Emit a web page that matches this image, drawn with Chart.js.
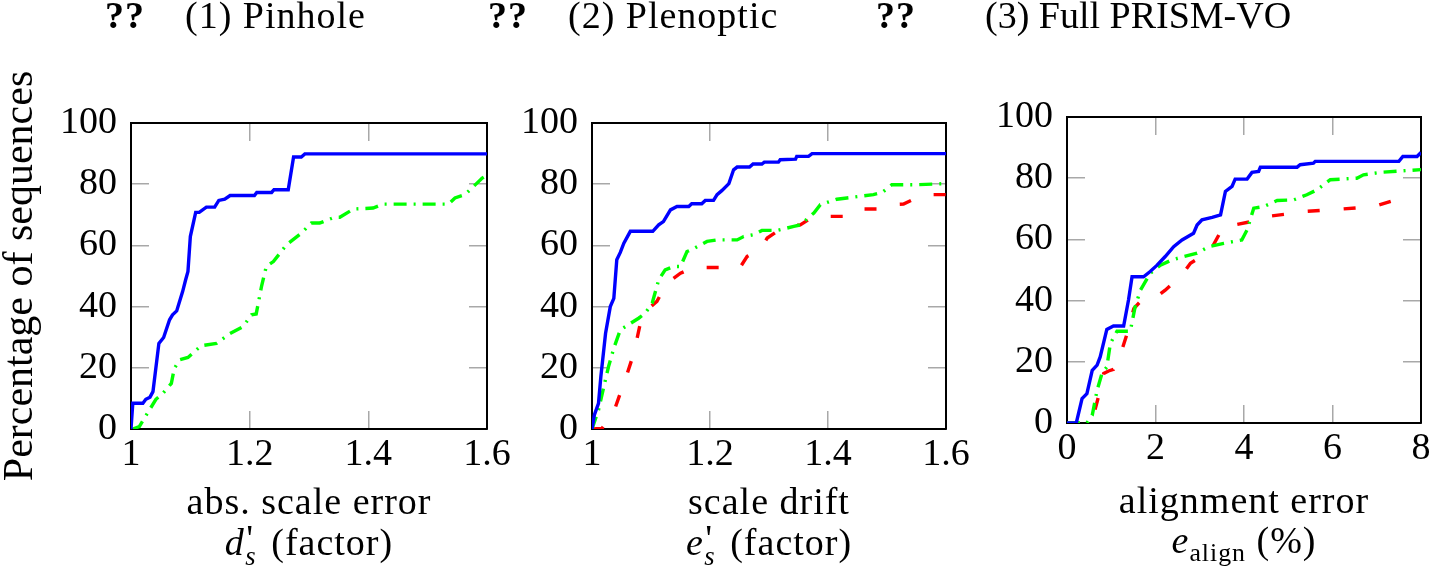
<!DOCTYPE HTML>
<html>
  <head>
    <script src="https://cdn.jsdelivr.net/npm/chart.js"></script>
    <style>
      body { margin: 0; width: 1429px; height: 572px; position: relative; overflow: hidden; background: #fff;
             font-family: "Liberation Serif", serif; font-size: 38px; color: #000; }
      canvas { position: absolute; left: 0; top: 0; }
      .t { position: absolute; line-height: 38px; white-space: nowrap; letter-spacing: 1px; }
      .c { transform: translateX(-50%); }
      .sub { font-size: 0.68em; position: relative; top: 0.3em; }
      .ps { display: inline-block; position: relative; width: 0.42em; height: 0; }
      .ps .pr { position: absolute; left: 0.04em; top: -36px; font-style: normal; }
      .ps .sb { position: absolute; left: 0.02em; top: -18px; font-size: 0.7em; }
    </style>
  </head>
  <body>
    <canvas id="abs-chart" width="1429" height="572"></canvas>
    <canvas id="drift-chart" width="1429" height="572"></canvas>
    <canvas id="align-chart" width="1429" height="572"></canvas>

    <!-- legend (the markers came out as ?? in the original) -->
    <div class="t" style="left:105px; top:-4px;"><b>??</b></div>
    <div class="t" style="left:185px; top:-4px;">(1) Pinhole</div>
    <div class="t" style="left:488px; top:-4px;"><b>??</b></div>
    <div class="t" style="left:568px; top:-4px;">(2) Plenoptic</div>
    <div class="t" style="left:876px; top:-4px;"><b>??</b></div>
    <div class="t" style="left:985px; top:-4px; letter-spacing: 0;">(3) Full PRISM-VO</div>

    <!-- x axis titles -->
    <div class="t c" style="left:309px; top:482px;">abs. scale error</div>
    <div class="t c" style="left:309px; top:523px;"><i>d</i><span class="ps"><span class="pr">'</span><i class="sb">s</i></span> (factor)</div>
    <div class="t c" style="left:769px; top:482px;">scale drift</div>
    <div class="t c" style="left:769px; top:523px;"><i>e</i><span class="ps"><span class="pr">'</span><i class="sb">s</i></span> (factor)</div>
    <div class="t c" style="left:1244px; top:481px;">alignment error</div>
    <div class="t c" style="left:1244px; top:521px;"><i>e</i><span class="sub">align</span> (%)</div>

    <script>
      // abs. scale error
      const absErrFullX = [1.0, 1.003, 1.020, 1.025, 1.032, 1.037, 1.047, 1.055, 1.065, 1.070, 1.077, 1.087, 1.092, 1.096, 1.100, 1.109, 1.115, 1.127, 1.141, 1.148, 1.158, 1.167, 1.208, 1.212, 1.237, 1.241, 1.265, 1.274, 1.287, 1.293, 1.6];
      const absErrFullY = [0, 8.4, 8.4, 9.7, 10.4, 12.2, 28.0, 29.9, 35.7, 37.3, 38.6, 44.9, 48.7, 51.5, 62.9, 70.8, 70.8, 72.5, 72.5, 74.7, 75.1, 76.3, 76.3, 77.3, 77.3, 78.2, 78.2, 88.9, 88.9, 89.9, 89.9];
      const absErrPlenX = [1.003, 1.014, 1.031, 1.042, 1.054, 1.068, 1.073, 1.082, 1.096, 1.118, 1.144, 1.166, 1.189, 1.203, 1.211, 1.220, 1.228, 1.240, 1.262, 1.287, 1.304, 1.318, 1.343, 1.352, 1.375, 1.408, 1.425, 1.535, 1.546, 1.563, 1.592, 1.6];
      const absErrPlenY = [0, 0.8, 6.2, 9.7, 11.7, 14.9, 19.8, 22.6, 23.4, 27.2, 28.0, 31.1, 33.5, 37.3, 37.6, 46.6, 53.1, 54.7, 60.2, 64.0, 67.3, 67.3, 69.2, 69.2, 71.9, 72.2, 73.5, 73.5, 75.5, 76.6, 82.0, 83.0];

      // scale drift
      const driftFullX = [1.0, 1.004, 1.011, 1.015, 1.023, 1.031, 1.037, 1.042, 1.048, 1.054, 1.065, 1.103, 1.113, 1.121, 1.133, 1.144, 1.164, 1.169, 1.186, 1.192, 1.206, 1.212, 1.220, 1.232, 1.240, 1.246, 1.267, 1.273, 1.288, 1.292, 1.316, 1.319, 1.345, 1.347, 1.367, 1.373, 1.6];
      const driftFullY = [0, 4.6, 8.4, 17.1, 31.3, 40.0, 42.7, 55.3, 57.7, 60.7, 64.6, 64.6, 66.7, 67.8, 71.6, 72.7, 72.7, 73.6, 73.6, 74.7, 74.7, 76.6, 77.9, 80.2, 84.7, 85.6, 85.6, 86.6, 86.6, 87.2, 87.2, 88.0, 88.2, 89.1, 89.1, 90.0, 90.0];
      const driftPlenX = [1.0, 1.011, 1.020, 1.028, 1.037, 1.048, 1.065, 1.079, 1.090, 1.102, 1.113, 1.124, 1.138, 1.150, 1.161, 1.169, 1.195, 1.212, 1.246, 1.257, 1.274, 1.288, 1.314, 1.342, 1.353, 1.376, 1.387, 1.415, 1.432, 1.477, 1.492, 1.508, 1.545, 1.6];
      const driftPlenY = [0, 6.2, 13.8, 20.4, 26.4, 32.4, 34.5, 36.2, 37.8, 41.1, 48.7, 52.0, 53.1, 53.1, 58.0, 58.6, 61.3, 61.8, 61.8, 62.9, 63.5, 64.9, 64.9, 66.2, 66.7, 70.6, 73.3, 75.1, 75.5, 76.6, 77.3, 79.8, 79.8, 80.2];
      const driftPinX = [1.0, 1.017, 1.037, 1.048, 1.059, 1.071, 1.082, 1.093, 1.110, 1.127, 1.150, 1.172, 1.251, 1.263, 1.285, 1.297, 1.314, 1.331, 1.353, 1.376, 1.432, 1.455, 1.461, 1.486, 1.506, 1.528, 1.562, 1.6];
      const driftPinY = [0, 0.2, 5.7, 11.7, 17.7, 24.8, 34.6, 38.9, 41.7, 47.7, 50.9, 52.8, 52.8, 56.4, 58.6, 62.4, 64.6, 66.2, 66.7, 69.5, 69.5, 70.6, 71.9, 71.9, 73.3, 73.5, 76.6, 76.6];

      // alignment error (%)
      const alignFullX = [0, 0.21, 0.34, 0.45, 0.57, 0.68, 0.75, 0.90, 1.05, 1.28, 1.39, 1.47, 1.73, 1.88, 2.03, 2.22, 2.41, 2.60, 2.86, 2.94, 3.05, 3.28, 3.47, 3.58, 3.73, 3.80, 4.07, 4.18, 4.33, 4.37, 5.20, 5.27, 5.57, 5.61, 7.50, 7.59, 7.91, 8.0];
      const alignFullY = [0, 0, 8.0, 9.6, 17.2, 18.9, 21.6, 30.6, 31.7, 31.7, 40.2, 47.8, 47.8, 49.5, 51.5, 54.4, 57.6, 59.8, 62.0, 64.7, 66.4, 67.2, 68.0, 75.7, 77.3, 79.7, 79.7, 81.9, 82.2, 83.6, 83.6, 84.4, 84.9, 85.5, 85.5, 87.1, 87.1, 88.4];
      const alignPlenX = [0, 0.45, 0.57, 0.68, 0.79, 0.90, 0.98, 1.13, 1.43, 1.54, 1.66, 1.88, 2.11, 2.37, 2.64, 2.94, 3.20, 3.54, 3.95, 4.07, 4.22, 4.44, 4.75, 5.12, 5.42, 5.65, 5.95, 6.55, 6.70, 7.08, 8.0];
      const alignPlenY = [0, 0, 2.5, 10.7, 16.2, 18.3, 26.0, 30.0, 30.0, 38.0, 43.4, 48.9, 51.6, 53.3, 54.4, 55.5, 57.6, 58.7, 59.8, 63.1, 70.2, 70.7, 72.7, 72.9, 74.6, 76.2, 79.5, 80.0, 81.1, 81.9, 82.8];
      const alignPinX = [0, 0.45, 0.60, 0.72, 0.83, 0.94, 1.05, 1.24, 1.36, 1.51, 1.69, 2.03, 2.22, 2.60, 2.79, 3.16, 3.31, 3.54, 3.77, 4.37, 4.52, 5.16, 5.35, 6.18, 6.93, 7.46, 7.70];
      const alignPinY = [0, 0, 2.5, 9.1, 16.2, 17.0, 17.5, 23.8, 29.3, 37.4, 40.2, 41.3, 43.4, 48.4, 52.2, 55.5, 58.2, 64.4, 64.7, 66.4, 67.5, 68.6, 69.1, 69.9, 70.7, 73.1, 73.5];

      const yTicks = [0, 100, 20];

      const BLUE = '#0000ff', GREEN = '#00ff00', RED = '#ff0000';
      const SOLID = [], DASHDOT = [13, 7, 2, 7], DASHED = [12, 24];
      const tickFont = { family: 'Liberation Serif', size: 38 };
      // pgfplots-style ticks: gray, pointing inward on all four sides
      const grid = { drawOnChartArea: false, color: '#a8a8a8', lineWidth: 1.5, tickLength: -18 };
      const border = { display: true, color: '#000', width: 2 };

      function line(xs, ys, color, dash) {
        return {
          data: xs.map(function(x, i) { return { x: x, y: ys[i] }; }),
          borderColor: color,
          borderWidth: 3.4,
          borderDash: dash,
          pointRadius: 0,
          tension: 0,
          fill: false
        };
      }

      function makeChart(id, pad, yWidth, xRange, yTitle, datasets) {
        return new Chart(document.getElementById(id), {
          type: 'line',
          data: { datasets: datasets },
          options: {
            responsive: false,
            animation: false,
            devicePixelRatio: 1,
            layout: { padding: pad },
            plugins: { legend: { display: false }, tooltip: { enabled: false } },
            scales: {
              x: {
                type: 'linear', position: 'bottom', min: xRange[0], max: xRange[1],
                ticks: { stepSize: xRange[2], padding: 21, color: '#000', font: tickFont, maxRotation: 0,
                         callback: function(v) { return String(Math.round(v * 10) / 10); } },
                grid: grid, border: border,
                afterFit: function(s) { s.height = 60; s.paddingLeft = 0; s.paddingRight = 0; }
              },
              x2: {
                type: 'linear', position: 'top', min: xRange[0], max: xRange[1],
                ticks: { stepSize: xRange[2], display: false },
                grid: grid, border: border,
                afterFit: function(s) { s.height = 0; }
              },
              y: {
                type: 'linear', position: 'left', min: yTicks[0], max: yTicks[1],
                ticks: { stepSize: yTicks[2], padding: 32, color: '#000', font: tickFont },
                grid: grid, border: border,
                title: { display: !!yTitle, text: yTitle, color: '#000', padding: 0,
                         font: { family: 'Liberation Serif', size: 42, lineHeight: 1 } },
                afterFit: function(s) { s.width = yWidth; }
              },
              y2: {
                type: 'linear', position: 'right', min: yTicks[0], max: yTicks[1],
                ticks: { stepSize: yTicks[2], display: false },
                grid: grid, border: border,
                afterFit: function(s) { s.width = 0; }
              }
            }
          }
        });
      }

      makeChart('abs-chart', { left: 0, top: 123, right: 942, bottom: 83 }, 131, [1, 1.6, 0.2],
        'Percentage of sequences', [
          line(absErrFullX, absErrFullY, BLUE, SOLID),
          line(absErrPlenX, absErrPlenY, GREEN, DASHDOT)
        ]);

      makeChart('drift-chart', { left: 512, top: 123, right: 483, bottom: 83 }, 80, [1, 1.6, 0.2],
        '', [
          line(driftFullX, driftFullY, BLUE, SOLID),
          line(driftPlenX, driftPlenY, GREEN, DASHDOT),
          line(driftPinX, driftPinY, RED, DASHED)
        ]);

      makeChart('align-chart', { left: 987, top: 117, right: 8, bottom: 89 }, 80, [0, 8, 2],
        '', [
          line(alignFullX, alignFullY, BLUE, SOLID),
          line(alignPlenX, alignPlenY, GREEN, DASHDOT),
          line(alignPinX, alignPinY, RED, DASHED)
        ]);
    </script>
  </body>
</html>
